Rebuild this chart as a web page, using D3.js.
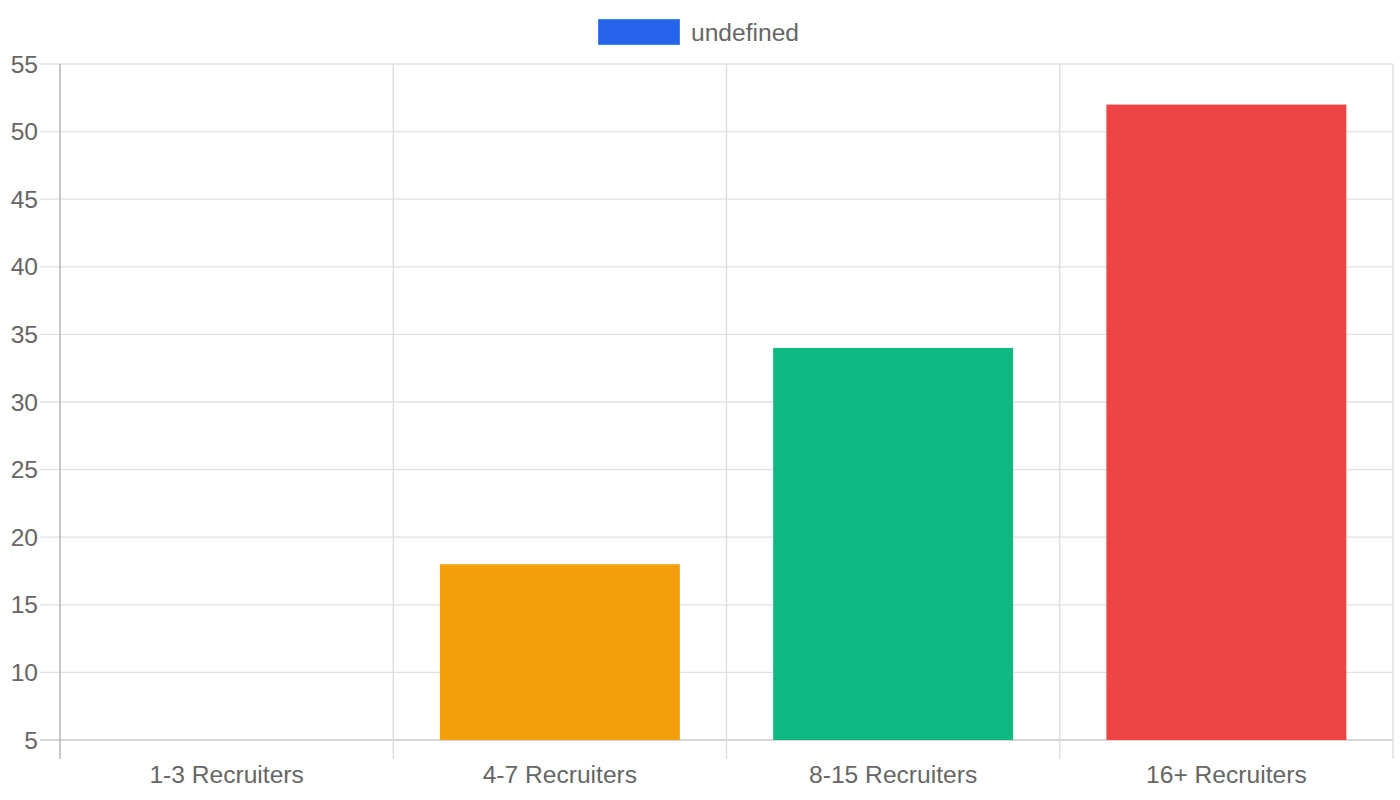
<!DOCTYPE html>
<html>
<head>
<meta charset="utf-8">
<script src="https://cdn.jsdelivr.net/npm/d3@7"></script>
<style>
  body { margin: 0; background: #fff; }
  svg text { font-family: "Liberation Sans", Arial, sans-serif; fill: #666; }
</style>
</head>
<body>
<svg id="chart" width="1400" height="800"></svg>
<script>
// chart data
var categories = ["1-3 Recruiters", "4-7 Recruiters", "8-15 Recruiters", "16+ Recruiters"];
var values = [5, 18, 34, 52];
var barColors = ["#2563eb", "#f59e0b", "#10b981", "#ef4444"];
var yTicks = [5, 10, 15, 20, 25, 30, 35, 40, 45, 50, 55];
var legendLabel = "undefined";

// plot area (don't call these top/left, window.top is taken)
var plotLeft = 60, plotRight = 1393, plotTop = 64, plotBottom = 740;
var fontSize = "24.6px";

var svg = d3.select("#chart");

var x = d3.scaleBand()
  .domain(categories)
  .range([plotLeft, plotRight])
  .padding(0);

var y = d3.scaleLinear()
  .domain([5, 55])
  .range([plotBottom, plotTop]);

// horizontal grid lines + tick marks
svg.append("g")
  .selectAll("line")
  .data(yTicks)
  .enter().append("line")
    .attr("x1", plotLeft - 20)
    .attr("x2", plotRight)
    .attr("y1", d => y(d))
    .attr("y2", d => y(d))
    .attr("stroke", d => d == 5 ? "#c8c8c8" : "#e1e1e1")
    .attr("stroke-width", 1.3);

// vertical grid lines at band edges
var edges = categories.map(c => x(c)).concat([plotRight]);
svg.append("g")
  .selectAll("line")
  .data(edges)
  .enter().append("line")
    .attr("x1", d => d)
    .attr("x2", d => d)
    .attr("y1", plotTop)
    .attr("y2", plotBottom + 19)
    .attr("stroke", (d, i) => i == 0 ? "#aaaaaa" : "#dcdcdc")
    .attr("stroke-width", 1.3);

// bars
var barW = x.bandwidth() * 0.72;
svg.append("g")
  .selectAll("rect")
  .data(values)
  .enter().append("rect")
    .attr("x", (d, i) => x(categories[i]) + (x.bandwidth() - barW) / 2)
    .attr("y", d => y(d))
    .attr("width", barW)
    .attr("height", d => plotBottom - y(d))
    .attr("fill", (d, i) => barColors[i]);

// y labels
svg.append("g")
  .selectAll("text")
  .data(yTicks)
  .enter().append("text")
    .attr("x", 38)
    .attr("y", d => y(d))
    .attr("dy", "0.35em")
    .attr("text-anchor", "end")
    .style("font-size", fontSize)
    .text(d => d);

// x labels
svg.append("g")
  .selectAll("text")
  .data(categories)
  .enter().append("text")
    .attr("x", d => x(d) + x.bandwidth() / 2)
    .attr("y", 774)
    .attr("dy", "0.35em")
    .attr("text-anchor", "middle")
    .style("font-size", fontSize)
    .text(d => d);

// legend
var legend = svg.append("g");
legend.append("rect")
  .attr("x", 598.5)
  .attr("y", 19.5)
  .attr("width", 81)
  .attr("height", 25)
  .attr("fill", barColors[0])
  .attr("stroke", "#3b82f6")
  .attr("stroke-width", 1);
legend.append("text")
  .attr("x", 691)
  .attr("y", 32)
  .attr("dy", "0.35em")
  .style("font-size", fontSize)
  .text(legendLabel);
</script>
</body>
</html>
